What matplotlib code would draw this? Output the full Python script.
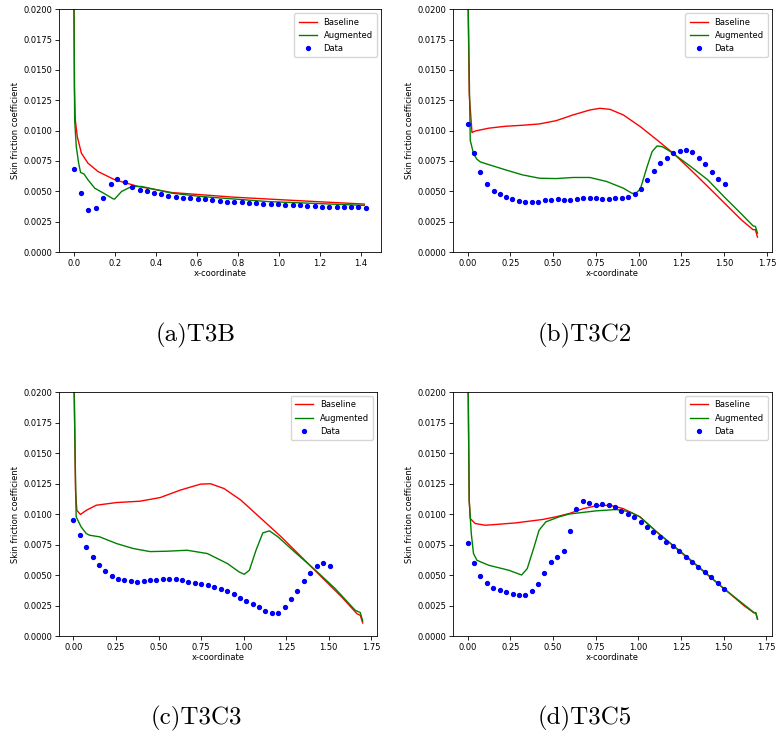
import numpy as np
import matplotlib.pyplot as plt

# ---- T3B ----
a_data_x = [0.0, 0.036, 0.072, 0.108, 0.144, 0.180, 0.214, 0.250, 0.286, 0.322, 0.356,
            0.392, 0.428, 0.462, 0.498, 0.534, 0.570, 0.606, 0.641, 0.676, 0.712, 0.748,
            0.783, 0.819, 0.855, 0.891, 0.925, 0.961, 0.997, 1.033, 1.069, 1.105, 1.139,
            1.175, 1.211, 1.247, 1.283, 1.317, 1.353, 1.389, 1.428]
a_data_y = [0.00682, 0.00490, 0.00348, 0.00359, 0.00449, 0.00559, 0.00600, 0.00578, 0.00537,
            0.00515, 0.00504, 0.00490, 0.00479, 0.00463, 0.00455, 0.00449, 0.00444, 0.00438,
            0.00433, 0.00427, 0.00422, 0.00416, 0.00414, 0.00408, 0.00405, 0.00400, 0.00397,
            0.00392, 0.00392, 0.00389, 0.00386, 0.00384, 0.00381, 0.00378, 0.00375, 0.00373,
            0.00373, 0.00370, 0.00367, 0.00367, 0.00364]
a_base_x = [0.0, 0.002, 0.004, 0.008, 0.018, 0.038, 0.070, 0.119, 0.201, 0.315, 0.479, 0.78,
            1.108, 1.418]
a_base_y = [0.05, 0.02, 0.0135, 0.0109, 0.0095, 0.00814, 0.00732, 0.00663, 0.00595, 0.0054,
            0.0049, 0.00452, 0.00422, 0.00395]
a_aug_x = [0.0, 0.002, 0.005, 0.013, 0.0245, 0.034, 0.05, 0.070, 0.103, 0.152, 0.193, 0.2,
           0.234, 0.283, 0.332, 0.479, 0.618, 0.944, 1.418]
a_aug_y = [0.05, 0.02, 0.0109, 0.00868, 0.00732, 0.00655, 0.00644, 0.00595, 0.00526, 0.00479,
           0.00438, 0.00436, 0.00499, 0.0054, 0.0054, 0.00485, 0.00458, 0.00416, 0.00384]

# ---- T3C2 ----
b_data_x = [0.0, 0.037, 0.075, 0.112, 0.152, 0.187, 0.226, 0.262, 0.299, 0.337, 0.376, 0.413,
            0.451, 0.488, 0.526, 0.565, 0.600, 0.640, 0.677, 0.715, 0.752, 0.789, 0.827, 0.864,
            0.904, 0.941, 0.978, 1.016, 1.051, 1.091, 1.128, 1.165, 1.203, 1.240, 1.278, 1.315,
            1.352, 1.390, 1.427, 1.467, 1.504]
b_data_y = [0.01055, 0.00816, 0.00658, 0.00559, 0.00504, 0.00474, 0.00455, 0.00436, 0.00422,
            0.00414, 0.00408, 0.00414, 0.00425, 0.00430, 0.00433, 0.00430, 0.00430, 0.00438,
            0.00441, 0.00447, 0.00441, 0.00438, 0.00438, 0.00444, 0.00449, 0.00452, 0.00474,
            0.00523, 0.00592, 0.00671, 0.00732, 0.00778, 0.00814, 0.00836, 0.00841, 0.00822,
            0.00775, 0.00723, 0.00658, 0.00603, 0.00564]
b_base_x = [0.0, 0.004, 0.01, 0.026, 0.045, 0.124, 0.222, 0.32, 0.42, 0.518, 0.616, 0.715, 0.774,
            0.833, 0.911, 1.01, 1.108, 1.207, 1.305, 1.404, 1.502, 1.6, 1.669, 1.683, 1.695]
b_base_y = [0.05, 0.02, 0.013, 0.00984, 0.00997, 0.0102, 0.01036, 0.01044, 0.01055, 0.01082,
            0.01129, 0.0117, 0.01184, 0.01175, 0.01129, 0.01033, 0.00923, 0.00808, 0.00677,
            0.0054, 0.00403, 0.00266, 0.00184, 0.00184, 0.00123]
b_aug_x = [0.0, 0.004, 0.016, 0.035, 0.055, 0.075, 0.124, 0.222, 0.32, 0.42, 0.518, 0.616, 0.715,
           0.813, 0.911, 0.96, 0.98, 1.01, 1.05, 1.079, 1.108, 1.138, 1.187, 1.305, 1.404, 1.502,
           1.6, 1.669, 1.683, 1.695]
b_aug_y = [0.05, 0.02, 0.0092, 0.0081, 0.00764, 0.00742, 0.0072, 0.00677, 0.00636, 0.00608,
           0.00605, 0.00614, 0.00614, 0.00581, 0.00526, 0.00485, 0.00479, 0.00518, 0.00704,
           0.00827, 0.00874, 0.00868, 0.00827, 0.00704, 0.00595, 0.00452, 0.00315, 0.00216,
           0.00211, 0.00156]

# ---- T3C3 ----
c_data_x = [0.0, 0.038, 0.075, 0.113, 0.150, 0.188, 0.225, 0.263, 0.300, 0.338, 0.375, 0.413,
            0.451, 0.488, 0.526, 0.563, 0.601, 0.638, 0.676, 0.713, 0.751, 0.789, 0.826, 0.866,
            0.903, 0.941, 0.978, 1.016, 1.053, 1.091, 1.128, 1.166, 1.204, 1.241, 1.279, 1.316,
            1.354, 1.391, 1.429, 1.466, 1.508]
c_data_y = [0.00952, 0.00829, 0.00730, 0.00651, 0.00585, 0.00536, 0.00495, 0.00471, 0.00457,
            0.00449, 0.00446, 0.00451, 0.00457, 0.00462, 0.00465, 0.00468, 0.00465, 0.00457,
            0.00446, 0.00438, 0.00427, 0.00416, 0.00405, 0.00386, 0.00367, 0.00345, 0.00312,
            0.00290, 0.00263, 0.00238, 0.00208, 0.00186, 0.00189, 0.00241, 0.00301, 0.00369,
            0.00449, 0.00517, 0.00572, 0.00599, 0.00577]
c_base_x = [0.0, 0.005, 0.012, 0.02, 0.041, 0.075, 0.134, 0.253, 0.391, 0.51, 0.628, 0.747, 0.806,
            0.885, 0.984, 1.103, 1.221, 1.34, 1.458, 1.577, 1.666, 1.686, 1.7]
c_base_y = [0.05, 0.02, 0.012, 0.0103, 0.00996, 0.0103, 0.01072, 0.01094, 0.01105, 0.01135,
            0.01196, 0.01245, 0.01248, 0.01209, 0.01114, 0.00963, 0.00813, 0.00648, 0.00484,
            0.0032, 0.00183, 0.0017, 0.00107]
c_aug_x = [0.0, 0.004, 0.016, 0.045, 0.075, 0.095, 0.154, 0.253, 0.352, 0.45, 0.549, 0.668, 0.787,
           0.905, 0.974, 1.004, 1.034, 1.073, 1.113, 1.152, 1.202, 1.3, 1.419, 1.538, 1.656,
           1.686, 1.7]
c_aug_y = [0.05, 0.02, 0.00977, 0.00895, 0.0084, 0.00826, 0.00813, 0.00758, 0.00717, 0.00692,
           0.00695, 0.00703, 0.00676, 0.00594, 0.00525, 0.00506, 0.00539, 0.00703, 0.00845,
           0.00862, 0.00813, 0.00689, 0.00544, 0.00389, 0.00211, 0.00192, 0.00123]

# ---- T3C5 ----
d_data_x = [0.0, 0.037, 0.075, 0.112, 0.152, 0.189, 0.226, 0.264, 0.301, 0.339, 0.376, 0.413,
            0.451, 0.488, 0.526, 0.563, 0.600, 0.638, 0.675, 0.712, 0.752, 0.789, 0.827, 0.864,
            0.902, 0.939, 0.976, 1.014, 1.051, 1.089, 1.128, 1.165, 1.203, 1.240, 1.278, 1.315,
            1.352, 1.390, 1.427, 1.465, 1.504]
d_data_y = [0.00763, 0.00599, 0.00490, 0.00432, 0.00397, 0.00375, 0.00358, 0.00345, 0.00334,
            0.00337, 0.00369, 0.00427, 0.00520, 0.00605, 0.00646, 0.00700, 0.00859, 0.01042,
            0.01108, 0.01089, 0.01078, 0.01083, 0.01078, 0.01056, 0.01026, 0.01001, 0.00974,
            0.00938, 0.00895, 0.00854, 0.00815, 0.00774, 0.00736, 0.00695, 0.00651, 0.00607,
            0.00566, 0.00525, 0.00482, 0.00438, 0.00389]
d_base_x = [0.0, 0.004, 0.0098, 0.016, 0.045, 0.104, 0.163, 0.281, 0.439, 0.518, 0.596, 0.680,
            0.754, 0.833, 0.911, 1.01, 1.108, 1.305, 1.502, 1.62, 1.679, 1.689, 1.699]
d_base_y = [0.05, 0.02, 0.0111, 0.00963, 0.00922, 0.00908, 0.00914, 0.00927, 0.00955, 0.00977,
            0.01004, 0.01045, 0.01067, 0.01072, 0.01045, 0.00977, 0.00854, 0.00621, 0.00389,
            0.00249, 0.00189, 0.00189, 0.00142]
d_aug_x = [0.0, 0.004, 0.01, 0.022, 0.035, 0.055, 0.124, 0.242, 0.317, 0.35, 0.39, 0.419, 0.459,
           0.537, 0.596, 0.754, 0.872, 0.95, 1.01, 1.108, 1.305, 1.502, 1.679, 1.689, 1.699]
d_aug_y = [0.05, 0.02, 0.0111, 0.0084, 0.00676, 0.00621, 0.0058, 0.00539, 0.005, 0.00553,
           0.0073, 0.00867, 0.00936, 0.00977, 0.01, 0.01026, 0.01037, 0.01018, 0.00977, 0.00854,
           0.00627, 0.00389, 0.00192, 0.00192, 0.00137]

panels = [
    ("(a)T3B", a_base_x, a_base_y, a_aug_x, a_aug_y, a_data_x, a_data_y),
    ("(b)T3C2", b_base_x, b_base_y, b_aug_x, b_aug_y, b_data_x, b_data_y),
    ("(c)T3C3", c_base_x, c_base_y, c_aug_x, c_aug_y, c_data_x, c_data_y),
    ("(d)T3C5", d_base_x, d_base_y, d_aug_x, d_aug_y, d_data_x, d_data_y),
]
axes_pos = [
    [0.076, 0.6585, 0.415, 0.329],
    [0.5838, 0.6585, 0.411, 0.329],
    [0.076, 0.1382, 0.41, 0.3306],
    [0.5838, 0.1382, 0.411, 0.3306],
]
caption_pos = [(0.2526, 0.545), (0.754, 0.545), (0.2526, 0.027), (0.754, 0.027)]
yticks = [0.0, 0.0025, 0.005, 0.0075, 0.01, 0.0125, 0.015, 0.0175, 0.02]

fig = plt.figure(figsize=(7.76, 7.38), dpi=100)
for (cap, bx, by, gx, gy, dx, dy), pos, cpos in zip(panels, axes_pos, caption_pos):
    ax = fig.add_axes(pos)
    ax.plot(bx, by, color='red', lw=1, label='Baseline')
    ax.plot(gx, gy, color='green', lw=1, label='Augmented')
    ax.plot(dx, dy, 'o', color='blue', ms=2.8, label='Data')
    # x keeps matplotlib's default 5% margins, y is clipped to the plotted range
    ax.set_ylim(0, 0.02)
    ax.set_yticks(yticks)
    ax.tick_params(labelsize=6, length=3, width=0.6, pad=2)
    for s in ax.spines.values():
        s.set_linewidth(0.6)
    ax.set_xlabel('x-coordinate', fontsize=6, labelpad=1)
    ax.set_ylabel('Skin friction coefficient', fontsize=6, labelpad=2.5)
    ax.legend(loc='upper right', fontsize=6, handlelength=2.2, borderpad=0.5)
    fig.text(cpos[0], cpos[1], cap, family='cmr10', fontsize=18, ha='center', va='center')

fig.savefig('out.png', dpi=100)
